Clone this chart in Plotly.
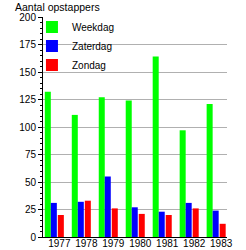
import plotly.graph_objects as go

years = ["1977", "1978", "1979", "1980", "1981", "1982", "1983"]
weekdag = [132, 111, 127, 124, 164, 97, 121]
zaterdag = [31, 32, 55, 27, 23, 31, 24]
zondag = [20, 33, 26, 21, 20, 26, 12]
series_names = ["Weekdag", "Zaterdag", "Zondag"]
colors = ["#00ff00", "#0000ff", "#ff0000"]
y_ticks = [0, 25, 50, 75, 100, 125, 150, 175, 200]

W = 0.223
offsets = [-0.539, -0.316, -0.056]

fig = go.Figure()
for name, vals, col, off in zip(series_names, [weekdag, zaterdag, zondag], colors, offsets):
    fig.add_trace(go.Bar(x=years, y=vals, name=name, marker=dict(color=col, line=dict(width=0)),
                         width=W, offset=off))

font = dict(family="Liberation Sans, Arial, sans-serif", size=10, color="black")
fig.update_layout(
    width=246, height=250,
    margin=dict(l=43, r=19, t=17, b=13, pad=0, autoexpand=False),
    paper_bgcolor="white", plot_bgcolor="white",
    barmode="overlay",
    font=font,
    showlegend=True,
    legend=dict(x=-0.06, y=1.02, xanchor="left", yanchor="top", bgcolor="rgba(0,0,0,0)",
                font=dict(family="Liberation Sans, Arial, sans-serif", size=10, color="black")),
    title=dict(text="Aantal opstappers", xref="container", yref="container", x=15/246, y=1-7/250,
               xanchor="left", yanchor="middle", automargin=False,
               font=dict(family="Liberation Sans, Arial, sans-serif", size=10.5, color="black")),
    xaxis=dict(type="category", range=[-0.606, 6.216], showline=True, linecolor="black", linewidth=1,
               ticks="", showgrid=False, tickfont=font, fixedrange=True, automargin=False,
               ticklabelstandoff=-3),
    yaxis=dict(range=[0, 200], tickvals=y_ticks, showline=True, linecolor="black", linewidth=1,
               ticks="outside", ticklen=4, tickcolor="black", showgrid=True, gridcolor="#b0b0b0",
               gridwidth=1, zeroline=False, tickfont=font, automargin=False,
               minor=dict(dtick=5, ticks="outside", ticklen=2, tickcolor="black", showgrid=False)),
)
fig.write_html("out.html")
